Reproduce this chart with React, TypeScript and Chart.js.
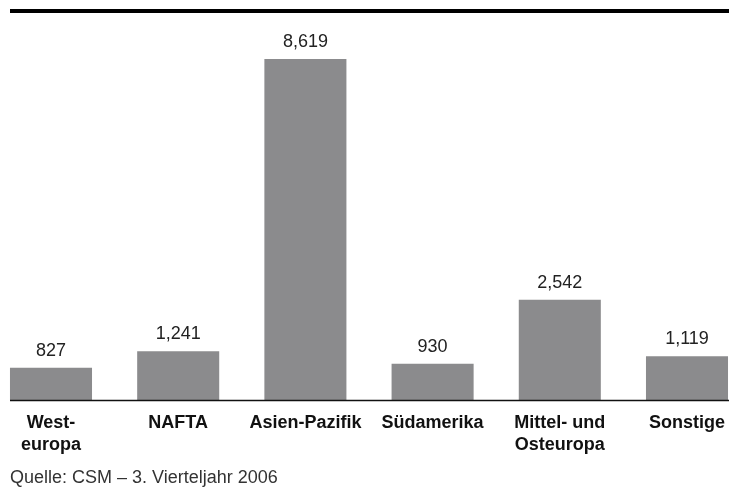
import React, { useEffect, useRef } from "react";
import { Chart, registerables } from "chart.js";

Chart.register(...registerables);

const categories: (string | string[])[] = [
  ["West-", "europa"],
  "NAFTA",
  "Asien-Pazifik",
  "Südamerika",
  ["Mittel- und", "Osteuropa"],
  "Sonstige",
];
const values: number[] = [827, 1241, 8619, 930, 2542, 1119];
const valueLabels: string[] = ["827", "1,241", "8,619", "930", "2,542", "1,119"];
const sourceText = "Quelle: CSM – 3. Vierteljahr 2006";

const FONT = "'Liberation Sans', Arial, Helvetica, sans-serif";

const decorPlugin = {
  id: "decor",
  afterDatasetsDraw(chart: any) {
    const ctx = chart.ctx;
    const area = chart.chartArea;
    const meta = chart.getDatasetMeta(0);
    ctx.save();
    // value labels
    ctx.fillStyle = "#222";
    ctx.font = `18px ${FONT}`;
    ctx.textAlign = "center";
    ctx.textBaseline = "alphabetic";
    meta.data.forEach((bar: any, i: number) => {
      ctx.fillText(valueLabels[i], bar.x, bar.y - 12);
    });
    // baseline
    ctx.strokeStyle = "#111";
    ctx.lineWidth = 1.6;
    ctx.beginPath();
    ctx.moveTo(10, area.bottom);
    ctx.lineTo(729, area.bottom);
    ctx.stroke();
    // top thick rule
    ctx.fillStyle = "#000";
    ctx.fillRect(10, 9, 719, 4);
    // source
    ctx.fillStyle = "#333";
    ctx.font = `18px ${FONT}`;
    ctx.textAlign = "left";
    ctx.fillText(sourceText, 10, 483);
    ctx.restore();
  },
};

export default function App() {
  const ref = useRef<HTMLCanvasElement | null>(null);
  useEffect(() => {
    if (!ref.current) return;
    const chart = new Chart(ref.current, {
      type: "bar",
      data: {
        labels: categories as any,
        datasets: [
          {
            data: values,
            backgroundColor: "#8b8b8d",
            borderWidth: 0,
            barPercentage: 0.645,
            categoryPercentage: 1,
            clip: false as any,
          },
        ],
      },
      options: {
        animation: false,
        responsive: false,
        devicePixelRatio: 1,
        layout: { padding: { left: 51, right: 42, top: 13, bottom: 25.5 } },
        plugins: { legend: { display: false }, tooltip: { enabled: false } },
        scales: {
          x: {
            offset: false,
            grid: { display: false, drawTicks: false },
            border: { display: false },
            afterFit: (scale: any) => {
              scale.paddingLeft = 0;
              scale.paddingRight = 0;
            },
            ticks: {
              padding: 11.5,
              color: "#111",
              font: { family: FONT, size: 18, weight: "bold", lineHeight: "22px" as any },
              maxRotation: 0,
              autoSkip: false,
            },
          },
          y: {
            display: false,
            min: 0,
            max: 9783,
          },
        },
      },
      plugins: [decorPlugin],
    });
    return () => chart.destroy();
  }, []);
  return (
    <div style={{ position: "absolute", left: 0, top: 0, width: 729, height: 493, background: "#fff" }}>
      <canvas ref={ref} width={729} height={493} style={{ display: "block" }} />
    </div>
  );
}
